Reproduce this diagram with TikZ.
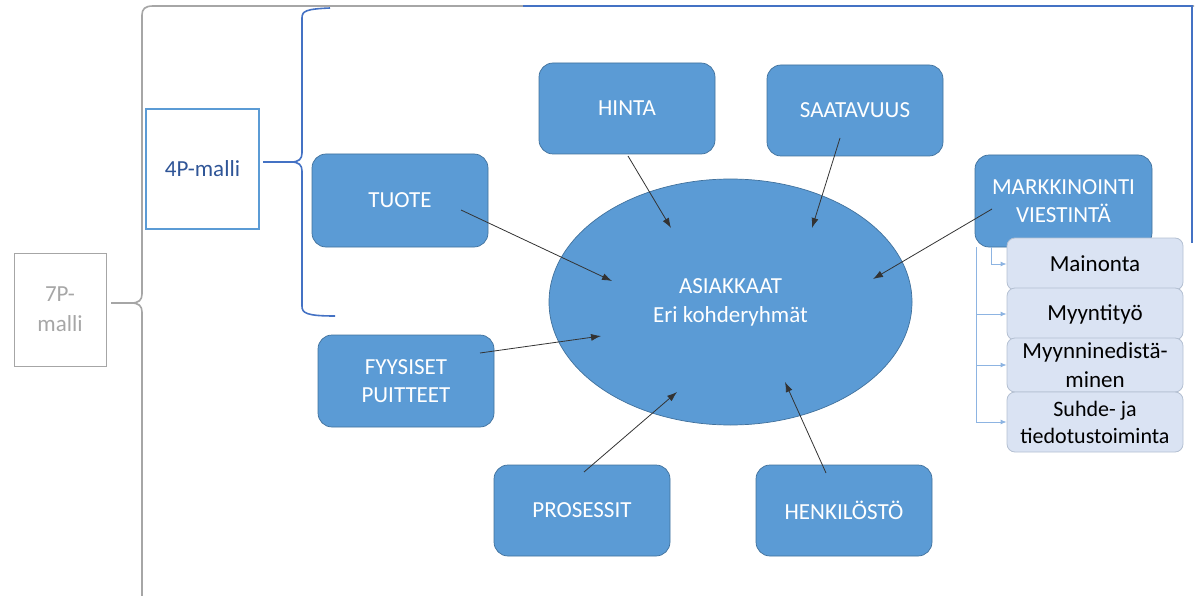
\documentclass[tikz,border=0pt]{standalone}
\usepackage{fontspec}
\setmainfont{Carlito}
\usetikzlibrary{arrows.meta,shapes.geometric}
\definecolor{boxfill}{HTML}{5B9BD5}
\definecolor{boxline}{HTML}{41719C}
\definecolor{bracegray}{HTML}{A6A6A6}
\definecolor{braceblue}{HTML}{4472C4}
\definecolor{subfill}{HTML}{DAE3F3}
\definecolor{subline}{HTML}{B4C0D2}
\definecolor{subconn}{HTML}{8DB4E2}
\definecolor{fourp}{HTML}{2F5597}
\begin{document}
\begin{tikzpicture}[x=1pt,y=-1pt,
  pbox/.style={rectangle,rounded corners=14pt,fill=boxfill,draw=boxline,line width=0.7pt,
    minimum width=176pt,minimum height=92pt,text=white,align=center,
    font=\fontsize{23}{28}\selectfont,inner sep=2pt},
  subbox/.style={rectangle,rounded corners=8pt,fill=subfill,draw=subline,line width=0.8pt,
    minimum width=176pt,text=black,align=center,inner sep=1pt,
    font=\fontsize{23}{29}\selectfont},
  feed/.style={draw=black!80,line width=0.8pt,-{Latex[length=10pt,width=7pt]}},
  subarrow/.style={draw=subconn,line width=0.9pt,-{Latex[length=6pt,width=5pt]}},
  grayline/.style={draw=bracegray,line width=1.6pt},
  blueline/.style={draw=braceblue,line width=1.6pt}]
\useasboundingbox (0,0) rectangle (1198,596);

% 7P brace (grey)
\draw[grayline] (111,303) -- (131,303) .. controls (139,303) and (142,300) .. (142,294)
  -- (142,15) .. controls (142,9) and (145,6) .. (153,6) -- (1194,6);
\draw[grayline] (131,303) .. controls (139,303) and (142,306) .. (142,312) -- (142,596);

% 4P brace (blue)
\draw[blueline] (263,162) -- (291,162) .. controls (299,162) and (302,159) .. (302,153)
  -- (302,18) .. controls (302,11) and (306,9) .. (330,8);
\draw[blueline] (291,162) .. controls (299,162) and (302,165) .. (302,171)
  -- (302,306) .. controls (302,313) and (306,316) .. (335,316);
\draw[blueline] (523,6) -- (1192,6) -- (1192,243);

% model labels
\node[draw=bracegray,line width=1pt,minimum width=92pt,minimum height=113pt,
  text=bracegray,align=center,font=\fontsize{23}{30}\selectfont] (sevenp) at (60,309.5) {7P-\\malli};
\node[draw=boxfill,line width=1.2pt,minimum width=113pt,minimum height=120pt,
  text=fourp,font=\fontsize{23}{28}\selectfont] (fourpbox) at (202.5,169) {4P-malli};

% centre
\node[ellipse,fill=boxfill,draw=boxline,line width=0.7pt,minimum width=363pt,minimum height=246pt,
  text=white,align=center,font=\fontsize{23}{29}\selectfont] (asiakkaat) at (730.5,302)
  {ASIAKKAAT\\Eri kohderyhmät};

% the P boxes
\node[pbox,minimum height=93pt] (tuote) at (400,200.5) {TUOTE};
\node[pbox,minimum height=91pt] (hinta) at (627,108.5) {HINTA};
\node[pbox,minimum height=91pt] (saatavuus) at (855,110.5) {SAATAVUUS};
\node[pbox,minimum width=177pt] (markk) at (1063.5,201) {MARKKINOINTI\\VIESTINTÄ};
\node[pbox] (fyysiset) at (406,381) {FYYSISET\\PUITTEET};
\node[pbox,minimum height=91pt] (prosessit) at (582,510.5) {PROSESSIT};
\node[pbox,minimum height=91pt] (henkilosto) at (844,510.5) {HENKILÖSTÖ};

% sub-items of marketing communication
\node[subbox,minimum height=52pt] (mainonta) at (1095,264) {Mainonta};
\node[subbox,minimum height=52pt] (myyntityo) at (1095,314) {Myyntityö};
\node[subbox,minimum height=54pt] (myynnin) at (1095,365) {Myynninedistä-\\minen};
\node[subbox,minimum height=60pt,font=\fontsize{22}{27}\selectfont] (suhde) at (1095,422) {Suhde- ja\\tiedotustoiminta};

% sub-item connectors
\coordinate (trunk) at (976,247);
\coordinate (trunkA) at (991,247);
\draw[draw=subconn,line width=0.9pt] (trunk) -- (976,422);
\draw[subarrow] (trunkA) |- (mainonta.west);
\draw[subarrow] (976,314) -- (myyntityo.west);
\draw[subarrow] (976,365) -- (myynnin.west);
\draw[subarrow] (976,422) -- (suhde.west);

% arrows into the centre
\coordinate (tuote-o) at (461,210);      \coordinate (asi-tuote) at (612,281);
\coordinate (fyys-o) at (480,353);       \coordinate (asi-fyys) at (601,336);
\coordinate (hinta-o) at (628,156);      \coordinate (asi-hinta) at (671,228);
\coordinate (saat-o) at (840,138);       \coordinate (asi-saat) at (812,228);
\coordinate (markk-o) at (992,209);      \coordinate (asi-markk) at (873,279);
\coordinate (pros-o) at (584,472);       \coordinate (asi-pros) at (677,392);
\coordinate (henk-o) at (826,473);       \coordinate (asi-henk) at (785,382);
\draw[feed] (tuote-o) -- (asi-tuote);
\draw[feed] (fyys-o) -- (asi-fyys);
\draw[feed] (hinta-o) -- (asi-hinta);
\draw[feed] (saat-o) -- (asi-saat);
\draw[feed] (markk-o) -- (asi-markk);
\draw[feed] (pros-o) -- (asi-pros);
\draw[feed] (henk-o) -- (asi-henk);
\end{tikzpicture}
\end{document}
